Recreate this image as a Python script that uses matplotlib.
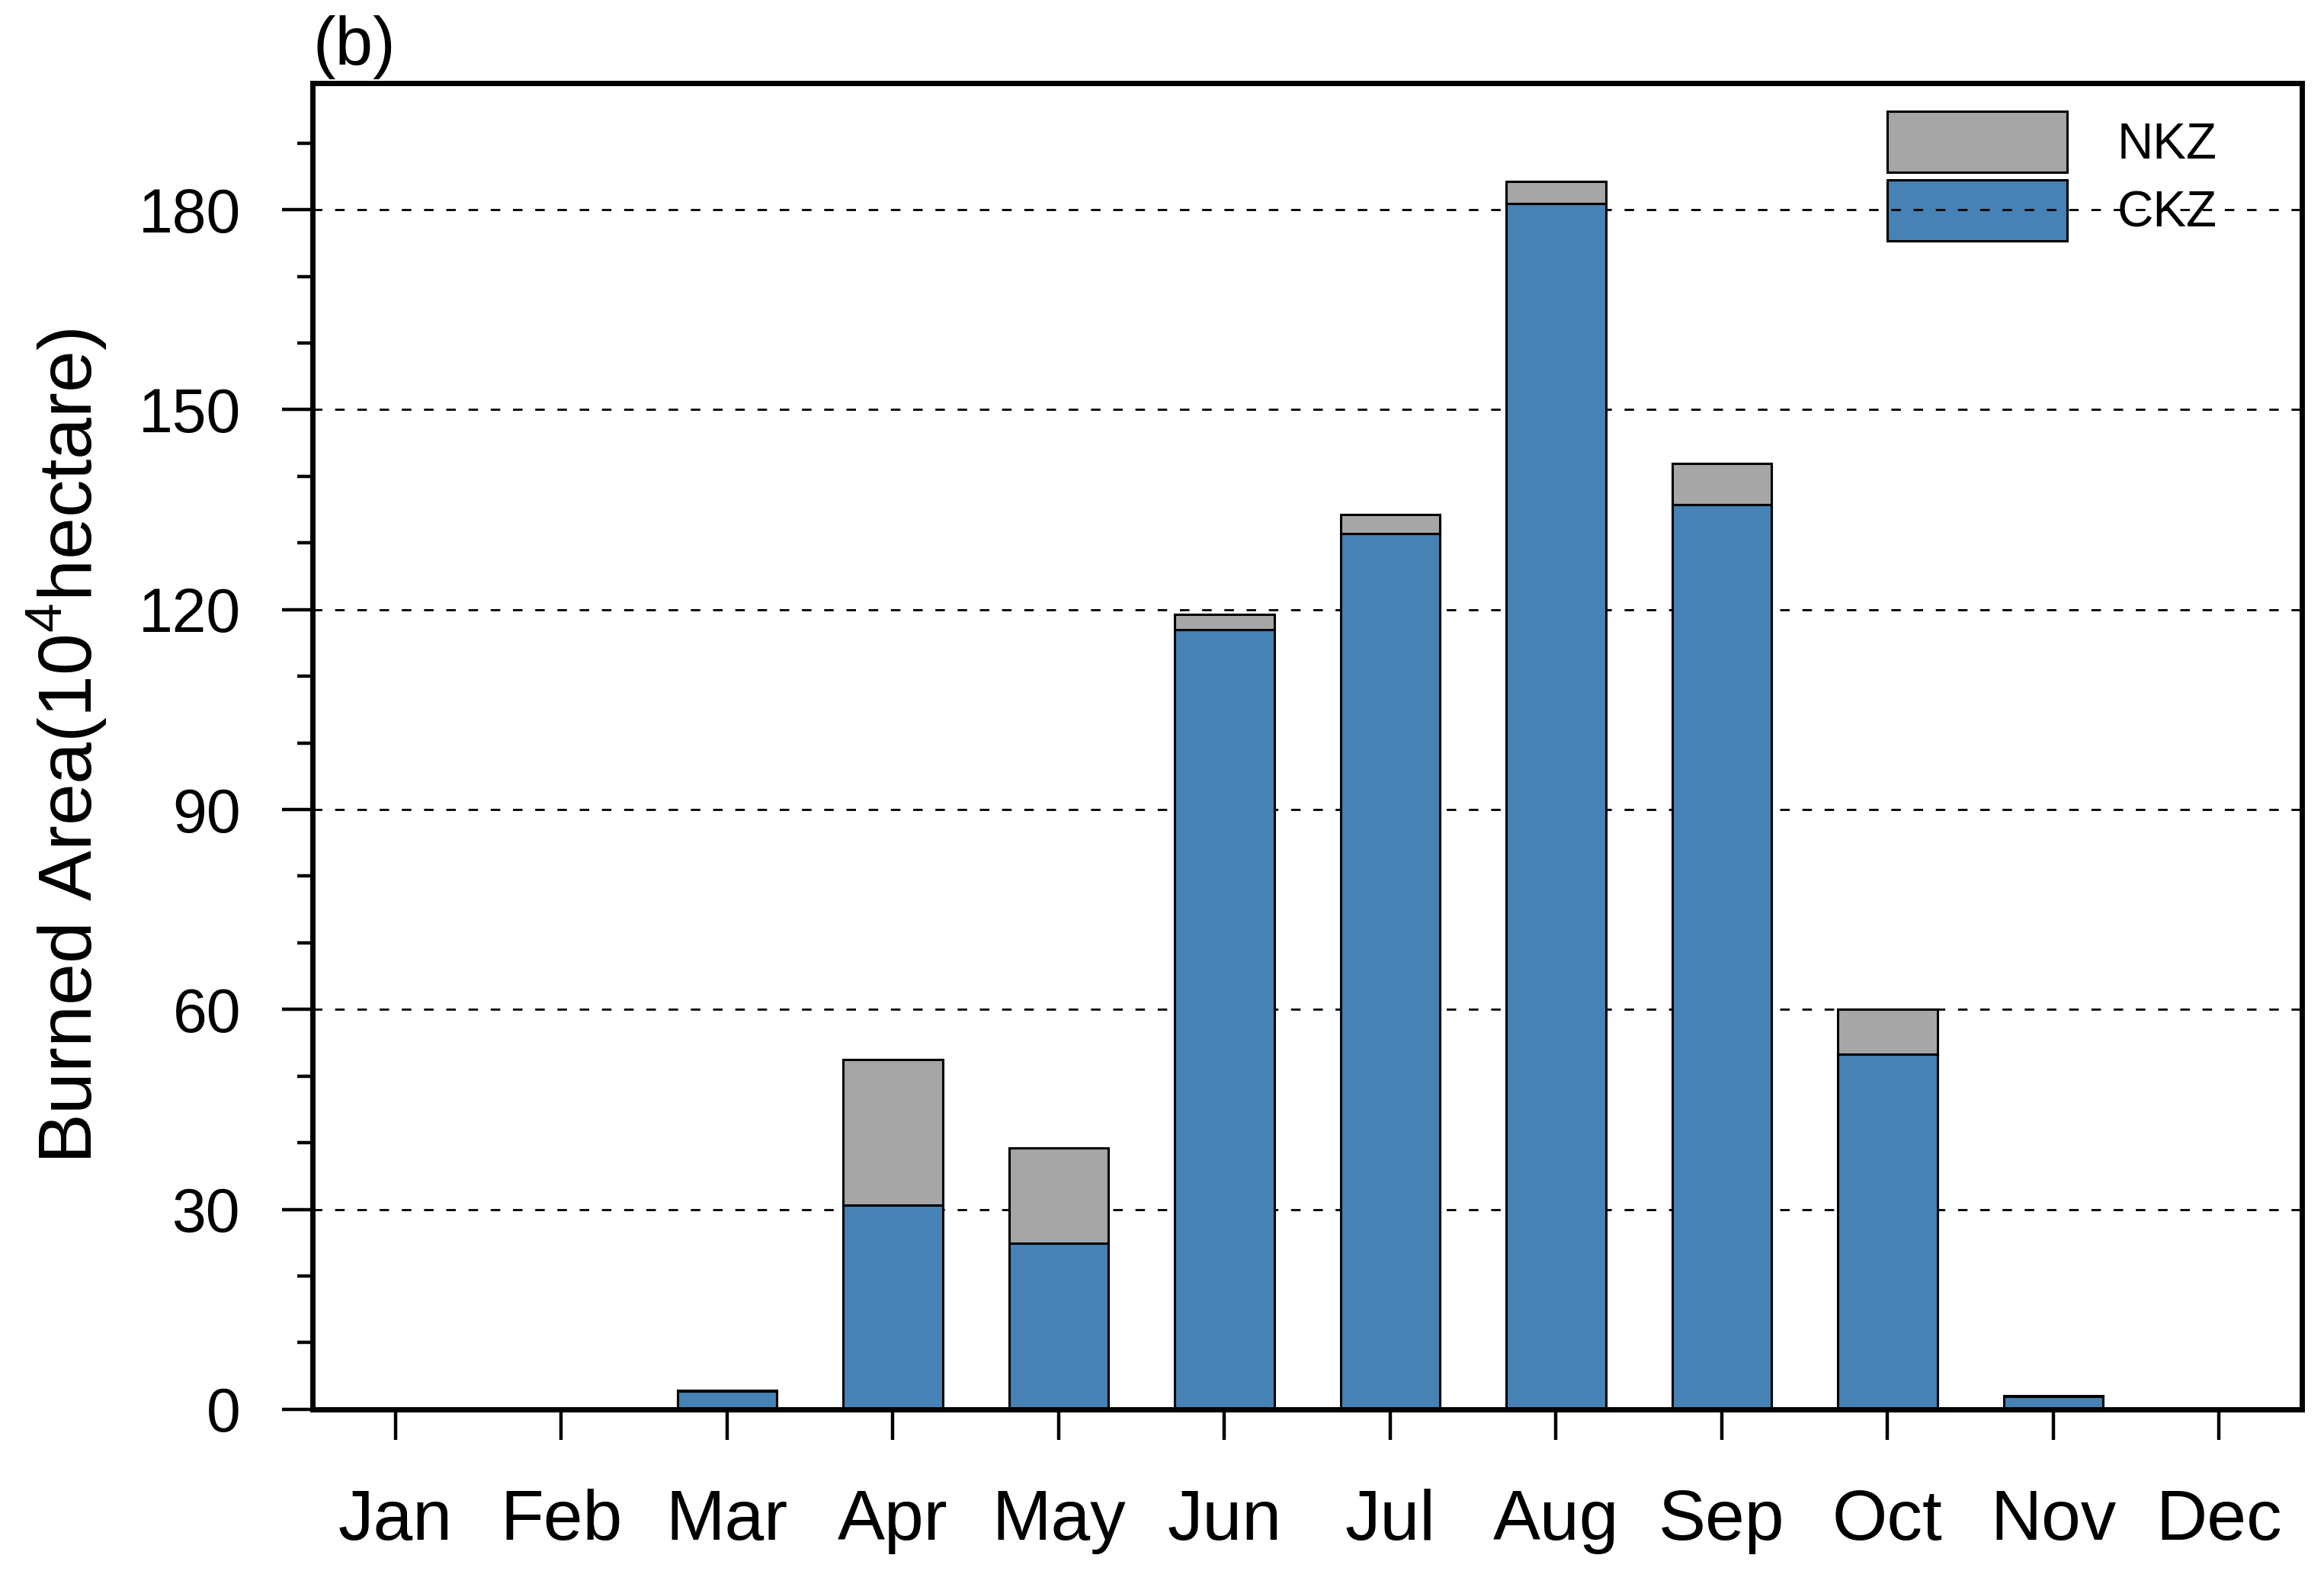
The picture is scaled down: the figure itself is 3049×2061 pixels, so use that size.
import numpy as np
import matplotlib
matplotlib.use("Agg")
import matplotlib.pyplot as plt
from matplotlib.ticker import MultipleLocator

plt.rcParams['font.family'] = ['Liberation Sans', 'DejaVu Sans']
plt.rcParams['mathtext.fontset'] = 'custom'
plt.rcParams['mathtext.rm'] = 'Liberation Sans'

months = ['Jan', 'Feb', 'Mar', 'Apr', 'May', 'Jun', 'Jul', 'Aug', 'Sep', 'Oct', 'Nov', 'Dec']
ckz = [0, 0, 2.7, 30.6, 24.9, 117.0, 131.4, 180.9, 135.8, 53.3, 1.9, 0]
nkz = [0, 0, 0.1, 21.9, 14.3, 2.3, 2.9, 3.3, 6.1, 6.7, 0.1, 0]

blue = '#4682B4'
gray = '#A6A6A6'

fig = plt.figure(figsize=(15.245, 10.305), dpi=200)
ax = fig.add_axes([0.1345, 0.1029, 0.856, 0.8442])

x = np.arange(len(months))
ax.bar(x, ckz, width=0.6, color=blue, edgecolor='black', linewidth=1.1, label='CKZ', zorder=2)
ax.bar(x, nkz, width=0.6, bottom=ckz, color=gray, edgecolor='black', linewidth=1.1, label='NKZ', zorder=2)

ax.set_xlim(-0.5, 11.5)
ax.set_ylim(0, 199)
ax.set_xticks(x)
ax.set_xticklabels(months, fontsize=33.5)
ax.yaxis.set_major_locator(MultipleLocator(30))
ax.yaxis.set_minor_locator(MultipleLocator(10))
ax.tick_params(axis='y', labelsize=29)

ax.tick_params(axis='both', which='major', direction='out', length=14.4, width=1.6)
ax.tick_params(axis='y', which='major', pad=19.5)
ax.tick_params(axis='x', which='major', pad=23)
ax.tick_params(axis='y', which='minor', direction='out', length=7.2, width=1.6)
ax.tick_params(axis='x', which='minor', bottom=False)

for s in ax.spines.values():
    s.set_linewidth(2.5)

ax.set_axisbelow(True)
ax.yaxis.grid(True, which='major', color='black', linewidth=1.0, linestyle=(0, (4.5, 6)))

ax.set_ylabel(r'Burned Area(10$^\mathregular{4}$hectare)', fontsize=35.5, labelpad=14)

ax.text(0.0, 1.0138, '(b)', transform=ax.transAxes, ha='left', va='baseline', fontsize=32)

handles, labels = ax.get_legend_handles_labels()
leg = ax.legend(handles[::-1], labels[::-1], loc='upper left', bbox_to_anchor=(0.7914, 0.9785),
                frameon=False, fontsize=23.6, handlelength=3.6, handleheight=1.5,
                labelspacing=0.14, handletextpad=1.0, borderpad=0, borderaxespad=0)
leg.set_zorder(0.3)

fig.savefig('out.png', dpi=200)
